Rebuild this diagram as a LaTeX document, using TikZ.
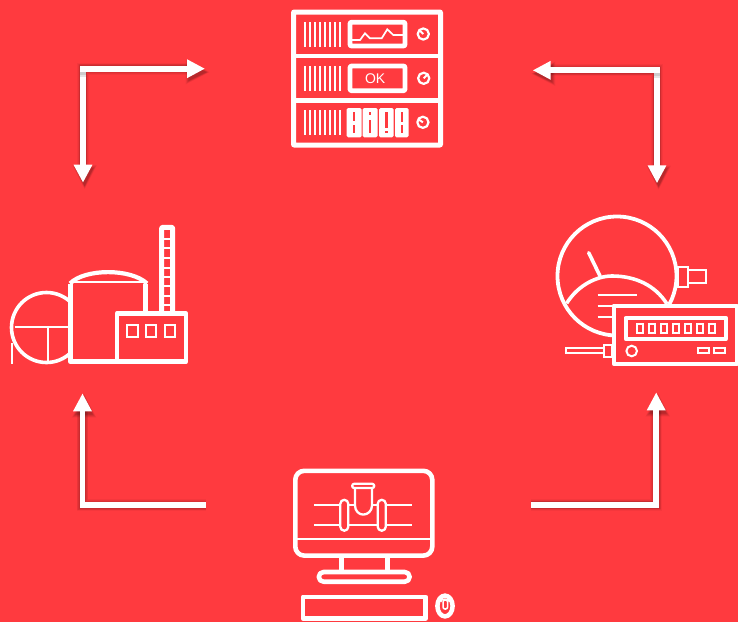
\documentclass[tikz,border=0pt]{standalone}
\usepackage{fontspec}
\setmainfont{Liberation Sans}
\usetikzlibrary{arrows.meta}
\definecolor{bg}{HTML}{FF3A3F}
\tikzset{
  heavy/.style={draw=white,line width=4.6pt,line join=round},
  medium/.style={draw=white,line width=2.6pt,line join=round},
  thin line/.style={draw=white,line width=2pt},
  vent/.style={draw=white,line width=1.9pt},
  block/.style={fill=white,rounded corners=1.5pt},
  slit/.style={fill=bg},
  flow/.style={draw=white,line width=5.8pt,line cap=rect,-{Triangle[length=18pt,width=17.5pt]}},
  plain flow/.style={draw=white,line width=5.8pt,line cap=rect},
  flowshadow/.style={draw=black,line join=miter},
  cornershade/.style={fill=black,fill opacity=.1},
}
% tip x, tip y, unit vector towards the base, growth
\newcommand{\headshadow}[5]{%
  \fill[black] ({#1+1.6-#5*#3*.5},{#2+3.4-#5*#4*.5})
    -- ({#1+1.6+(18+#5*.5)*#3-(8.75+#5*.6)*#4},{#2+3.4+(18+#5*.5)*#4-(8.75+#5*.6)*#3})
    -- ({#1+1.6+(18+#5*.5)*#3+(8.75+#5*.6)*#4},{#2+3.4+(18+#5*.5)*#4+(8.75+#5*.6)*#3})
    -- cycle;
}
\begin{document}
\begin{tikzpicture}[x=1pt,y=-1pt]
\useasboundingbox (0,0) rectangle (738,622);
\fill[bg] (0,0) rectangle (738,622);

% ---------- connector points
\coordinate (a1s) at (205,68.7);
\coordinate (a1c) at (83,68.7);
\coordinate (a1e) at (83,182.7);
\coordinate (a2s) at (532.7,70.3);
\coordinate (a2c) at (657,70.3);
\coordinate (a2e) at (657,183.3);
\coordinate (a3s) at (205.7,505.3);
\coordinate (a3c) at (82.5,505.3);
\coordinate (a3e) at (82.5,393.3);
\coordinate (a4s) at (530.7,505);
\coordinate (a4c) at (656.2,505);
\coordinate (a4e) at (656.2,392.3);

% ---------- shadows
\foreach \g/\o in {6/.04,4.5/.05,3/.06,1.5/.07,0/.09}{
  \begin{scope}[opacity=\o]
    \begin{scope}[shift={(1.6,3.4)}]
      \draw[flowshadow,line width=5.8pt+\g pt] ([xshift=-18pt]a1s) -- (a1c) -- ([yshift=18pt]a1e);
      \draw[flowshadow,line width=5.8pt+\g pt] ([xshift=18pt]a2s) -- (a2c) -- ([yshift=18pt]a2e);
      \draw[flowshadow,line width=5.8pt+\g pt] (a3s) -- (a3c) -- ([yshift=-18pt]a3e);
      \draw[flowshadow,line width=5.8pt+\g pt] (a4s) -- (a4c) -- ([yshift=-18pt]a4e);
    \end{scope}
    \headshadow{205}{68.7}{-1}{0}{\g}
    \headshadow{83}{182.7}{0}{-1}{\g}
    \headshadow{532.7}{70.3}{1}{0}{\g}
    \headshadow{657}{183.3}{0}{-1}{\g}
    \headshadow{82.5}{393.3}{0}{1}{\g}
    \headshadow{656.2}{392.3}{0}{1}{\g}
  \end{scope}
}
% ---------- connectors
\draw[flow] (a1c) -- (a1e);
\fill[cornershade] (80.1,71.6) rectangle (85.9,76.5);
\fill[cornershade] (80.1,71.6) rectangle (85.9,74.5);
\draw[flow] (a1c) -- (a1s);
\draw[flow] (a2c) -- (a2e);
\fill[cornershade] (654.1,73.2) rectangle (659.9,78);
\fill[cornershade] (654.1,73.2) rectangle (659.9,76);
\draw[flow] (a2c) -- (a2s);
\draw[flow] (a3c) -- (a3e);
\draw[plain flow] (a3c) -- ([xshift=-2.9pt]a3s);
\draw[flow] (a4c) -- (a4e);
\draw[plain flow] (a4c) -- ([xshift=2.9pt]a4s);

% ---------- server rack
\draw[heavy,line width=5pt,rounded corners=.5pt] (293.5,12) rectangle (440.5,145);
\draw[heavy] (293.5,56) -- (440.5,56);
\draw[heavy] (293.5,100.5) -- (440.5,100.5);
\foreach \i in {0,...,7}{
  \draw[vent] (305.3+5*\i,22) -- (305.3+5*\i,47);
  \draw[vent] (305.3+5*\i,66) -- (305.3+5*\i,91);
  \draw[vent] (305.3+5*\i,110) -- (305.3+5*\i,135);
}
\draw[heavy,rounded corners=1pt] (350,22.2) rectangle (405,46);
\draw[thin line,line width=1.7pt] (352,40) -- (360,40) -- (365,33.3) -- (370,38.3) -- (381.7,38.3) -- (387.3,29.3) -- (393.3,35) -- (405,35);
\draw[heavy,rounded corners=1pt] (350,66) rectangle (405,90.7);
\node[text=white,font=\fontsize{14}{15}\selectfont,inner sep=0pt] (oktext) at (375.2,78.3) {OK};
\fill[block] (346.7,108) rectangle (361.7,137.3);
\fill[block] (362.7,108) rectangle (377.5,137.3);
\fill[block] (379,108) rectangle (393.5,137.3);
\fill[block] (395,108) rectangle (408.5,137.3);
\fill[slit] (353,111.7) rectangle (355.3,120.7);
\fill[slit] (353,125) rectangle (355.3,133.3);
\fill[slit] (369,111.7) rectangle (371.3,115);
\fill[slit] (369,120) rectangle (371.3,133.3);
\fill[slit] (385.2,111.7) rectangle (387.5,128.3);
\fill[slit] (385.2,130.7) rectangle (387.5,133.3);
\fill[slit] (400.7,111.7) rectangle (403,121.7);
\fill[slit] (400.7,125) rectangle (403,133.3);
\foreach \cx/\cy/\nx/\ny in {423.3/34/-3.6/-3.6,423.7/78.3/3.6/-3.6,422.9/122.3/-3.9/-2.6}{
  \draw[medium,line width=2.2pt] (\cx,\cy) circle[radius=5.6];
  \draw[medium,line width=1.9pt] (\cx,\cy) -- ++(\nx,\ny);
}

% ---------- plant
\draw[medium,line width=3.6pt] (46.5,327.5) circle[radius=35];
\draw[thin line] (14.7,327.3) -- (70,327.3);
\draw[thin line] (47.7,327.3) -- (47.7,362);
\draw[thin line] (12,343) -- (12,363.5);
\fill[bg] (70.5,283.5) rectangle (145.3,361.7);
\draw[heavy,line width=5pt] (70.5,283.5) -- (70.5,361.7) -- (117,361.7);
\draw[heavy,line width=5pt] (145.3,283.5) -- (145.3,313);
\draw[heavy,line width=4.2pt] (70,283.5) .. controls (85,268.3) and (131,268.3) .. (147,283.5);
\draw[thin line] (70,282.4) -- (146,282.4);
\draw[heavy,line width=5pt,rounded corners=1pt] (161.6,311) -- (161.6,227.3) -- (172.7,227.3) -- (172.7,311);
\foreach \r in {57,85,114,143,171,199,227,255}{
  \draw[thin line] (161.6,220+\r/3) -- (172.7,220+\r/3);
}
\draw[heavy,fill=bg] (117,313.4) rectangle (186,361.7);
\foreach \wx in {126.9,145.5,164.8}{
  \draw[thin line] (\wx,325.2) rectangle (\wx+10.6,337.2);
}

% ---------- gauge and meter
\draw[medium,line width=3.8pt] (617,276) circle[radius=59.5];
\draw[medium,line width=3.6pt] (566.7,303.3) .. controls (578,285) and (597,276) .. (612,276) .. controls (635,276) and (655,285) .. (667,304);
\draw[medium,line width=3.6pt,line cap=round] (588.7,252.7) -- (600,276);
\draw[thin line] (597.7,295) -- (636.7,295);
\draw[thin line] (597.7,306) -- (612.5,306);
\draw[thin line] (597.7,317) -- (612.5,317);
\draw[thin line] (678,266.5) rectangle (688,286.5);
\draw[thin line] (688,270) rectangle (706,283);
\draw[heavy,fill=bg,line width=4.2pt] (613.8,305.8) rectangle (736.7,363.9);
\draw[heavy,line width=4pt] (625.7,317.8) rectangle (725.7,339);
\foreach \dx in {637,649,661,673.2,685,697,709.2}{
  \draw[thin line] (\dx,324.2) rectangle (\dx+6.2,332.7);
}
\draw[thin line] (631.7,351) circle[radius=5.3];
\draw[thin line] (697.8,348.2) rectangle (709,353.2);
\draw[thin line] (713.5,348.2) rectangle (725.2,353.2);
\draw[thin line] (603.5,345) rectangle (612,357.2);
\draw[thin line] (565.8,348.2) rectangle (603.5,353.2);

% ---------- monitor
\draw[heavy,rounded corners=9pt] (295.3,470.8) rectangle (432.3,555.6);
\draw[thin line,line width=2.2pt] (295.3,539.3) -- (432.3,539.3);
\draw[thin line] (314.3,504.7) -- (340,504.7);
\draw[thin line] (386,504.7) -- (411.7,504.7);
\draw[thin line] (314.3,525.3) -- (340,525.3);
\draw[thin line] (386,525.3) -- (411.7,525.3);
\draw[medium,line width=2.3pt] (348.3,525.3) -- (377.7,525.3);
\draw[medium,line width=2.3pt] (348.3,504.7) -- (355,504.7);
\draw[medium,line width=2.3pt] (372,504.7) -- (377.7,504.7);
\draw[medium,line width=2.3pt,rounded corners=4pt] (340.3,499.8) rectangle (348.3,530.7);
\draw[medium,line width=2.3pt,rounded corners=4pt] (377.7,499.8) rectangle (385.8,530.7);
\draw[medium,line width=2.3pt] (355,488) -- (355,505.5) .. controls (355,511) and (359,514.6) .. (363.3,514.6) .. controls (367.6,514.6) and (372,511) .. (372,505.5) -- (372,488);
\draw[medium,line width=2.3pt,rounded corners=2pt] (352.2,483.8) rectangle (374.2,488);
\draw[heavy,line width=5pt] (341,557) -- (341,571);
\draw[heavy,line width=5pt] (387.7,557) -- (387.7,571);
\draw[heavy,rounded corners=4.8pt] (318.8,572) rectangle (409.6,581.7);
\draw[heavy] (303,596.8) rectangle (425.7,618.3);
\draw[heavy,line width=4.5pt] (445,606) ellipse[x radius=7.6, y radius=10.4];
\draw[thin line,line width=1.5pt,rounded corners=2pt] (443,600) rectangle (447.6,609);
\draw[thin line,line width=1.3pt] (440.7,602) .. controls (441,598) and (449,598) .. (449.5,602);
\end{tikzpicture}
\end{document}
